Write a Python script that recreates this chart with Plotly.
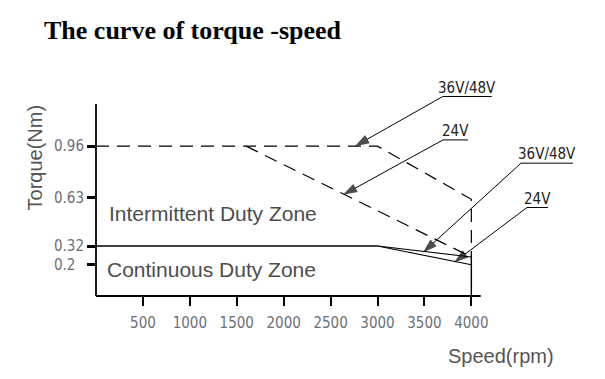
import plotly.graph_objects as go

# ---------------- data ----------------
speed_ticks = [500, 1000, 1500, 2000, 2500, 3000, 3500, 4000]
speed_tick_text = ["500", "1000", "1500", "2000", "2500", "3000", "3500", "4000"]
torque_ticks = [0.96, 0.63, 0.32, 0.2]
torque_tick_text = ["0.96", "0.63", "0.32", "0.2\u2007"]

# continuous duty boundary
cont_speed = [0, 3000]
cont_torque = [0.32, 0.32]
cont_3648_speed = [3000, 4000]
cont_3648_torque = [0.32, 0.25]
cont_24_speed = [3000, 4000]
cont_24_torque = [0.32, 0.20]
cont_edge_speed = [4000, 4000]
cont_edge_torque = [0.0, 0.25]

# intermittent duty boundary
int_3648_speed = [0, 3000, 4000, 4000]
int_3648_torque = [0.96, 0.96, 0.62, 0.25]
int_24_speed = [1600, 4000]
int_24_torque = [0.96, 0.25]

# callout labels
label_text = ["36V/48V", "24V", "36V/48V", "24V"]
label_start_speed = [3695, 3698, 4529, 4593]
label_end_speed = [4217, 3965, 5083, 4817]
label_torque = [1.278, 1.0, 0.851, 0.567]
arrow_tip_speed = [2760, 2632, 3485, 3815]
arrow_tip_torque = [0.96, 0.648, 0.279, 0.215]

zone_text = ["Intermittent Duty Zone", "Continuous Duty Zone"]
zone_speed = [115, 95]
zone_torque = [0.531, 0.168]

X_MAX = 5371
Y_MAX = 1.512
X_AXIS_END = 4100
Y_AXIS_END = 1.23

NARROW = "DejaVu Sans Condensed, Liberation Sans Narrow, Arial Narrow, Liberation Sans, sans-serif"
SANS = "Liberation Sans, Arial, sans-serif"

# ---------------- figure ----------------
fig = go.Figure()

solid = dict(color="black", width=1.4)
dashed = dict(color="black", width=1.2, dash="13px,8px")

for xs, ys, ln in [
    (cont_speed, cont_torque, solid),
    (cont_3648_speed, cont_3648_torque, dict(color="black", width=1.1)),
    (cont_24_speed, cont_24_torque, dict(color="black", width=1.1)),
    (cont_edge_speed, cont_edge_torque, solid),
    (int_3648_speed, int_3648_torque, dashed),
    (int_24_speed, int_24_torque, dashed),
]:
    fig.add_trace(go.Scatter(x=xs, y=ys, mode="lines", line=ln,
                             hoverinfo="skip", showlegend=False))

annotations = []
for txt, xs0, xs1, yt, tx, ty in zip(label_text, label_start_speed, label_end_speed,
                                      label_torque, arrow_tip_speed, arrow_tip_torque):
    # underline
    fig.add_trace(go.Scatter(x=[xs0, xs1], y=[yt, yt], mode="lines",
                             line=dict(color="black", width=1),
                             hoverinfo="skip", showlegend=False))
    # leader line with arrowhead at the tip
    fig.add_trace(go.Scatter(x=[xs0, tx], y=[yt, ty], mode="lines+markers",
                             line=dict(color="black", width=1),
                             marker=dict(symbol="arrow", size=[0, 15], color="black",
                                         angleref="previous", line=dict(width=0)),
                             hoverinfo="skip", showlegend=False))
    # label
    annotations.append(dict(x=(xs0 + xs1) / 2, y=yt, xref="x", yref="y",
                            text=txt, showarrow=False, xanchor="center",
                            yanchor="bottom", yshift=-2,
                            font=dict(family=NARROW, size=15, color="#222222")))

for txt, zx, zy in zip(zone_text, zone_speed, zone_torque):
    annotations.append(dict(x=zx, y=zy, xref="x", yref="y", text=txt,
                            showarrow=False, xanchor="left", yanchor="middle",
                            font=dict(family=SANS, size=21, color="#4d4d4d")))

# axis titles
annotations.append(dict(x=-0.121, y=0.587, xref="paper", yref="paper",
                        text="Torque(Nm)", textangle=-90, showarrow=False,
                        xanchor="center", yanchor="middle",
                        font=dict(family=SANS, size=20, color="#555555")))
annotations.append(dict(x=0.8036, y=-0.254, xref="paper", yref="paper",
                        text="Speed(rpm)", showarrow=False,
                        xanchor="center", yanchor="middle",
                        font=dict(family=SANS, size=20, color="#555555")))

shapes = [
    dict(type="line", xref="paper", yref="paper", x0=0, x1=X_AXIS_END / X_MAX,
         y0=0, y1=0, line=dict(color="black", width=1.8)),
    dict(type="line", xref="paper", yref="paper", x0=0, x1=0,
         y0=0, y1=Y_AXIS_END / Y_MAX, line=dict(color="black", width=1.8)),
]

fig.update_layout(
    width=605, height=379,
    margin=dict(l=88, r=13, t=52, b=91),
    paper_bgcolor="white", plot_bgcolor="white",
    title=dict(text="<b>The curve of torque -speed</b>", x=36 / 605, xref="container",
               xanchor="left", y=1 - 22 / 379, yref="container", yanchor="middle",
               font=dict(family="Liberation Serif", size=26, color="black")),
    annotations=annotations,
    shapes=shapes,
    showlegend=False,
    xaxis=dict(range=[0, X_MAX], showgrid=False, zeroline=False, showline=False,
               tickmode="array", tickvals=speed_ticks, ticktext=speed_tick_text,
               ticks="outside", ticklen=9, tickwidth=1.5, tickcolor="black",
               ticklabelstandoff=4,
               tickfont=dict(family=NARROW, size=15, color="#6a7078")),
    yaxis=dict(range=[0, Y_MAX], showgrid=False, zeroline=False, showline=False,
               tickmode="array", tickvals=torque_ticks, ticktext=torque_tick_text,
               ticks="outside", ticklen=8, tickwidth=2.5, tickcolor="black",
               ticklabelstandoff=0,
               tickfont=dict(family=NARROW, size=15, color="#6a7078")),
)

fig.write_html("out.html")
